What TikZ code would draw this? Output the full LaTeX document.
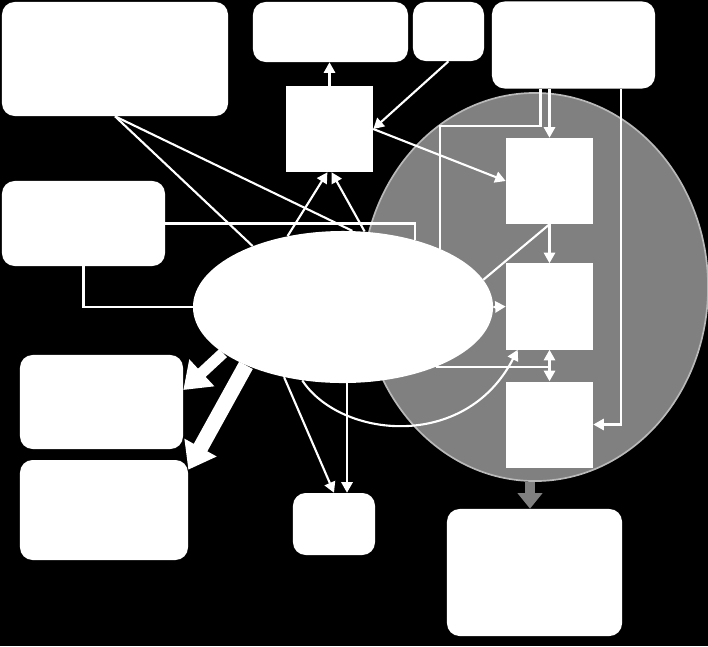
\documentclass[tikz,border=0pt]{standalone}
\usetikzlibrary{arrows.meta,shapes.geometric}
\begin{document}
\begin{tikzpicture}[x=0.025cm, y=-0.025cm, >={Triangle[length=7.5pt,width=8pt]}]
        \tikzstyle{box}=[fill=white, rounded corners=9pt, inner sep=0pt]
        \tikzstyle{sq}=[fill=white, inner sep=0pt, minimum width=2.175cm, minimum height=2.15cm]
        \tikzstyle{link}=[white, line width=1.5pt]
        \tikzstyle{fat}=[white, -{Triangle[length=18pt,width=25pt]}]

        \useasboundingbox (0,0) rectangle (708,646);
        \fill[black] (0,0) rectangle (708,646);

        % Nodes
        \node[ellipse, fill=gray, draw=gray!55, line width=1.2pt, inner sep=0pt, minimum width=8.65cm, minimum height=9.7cm] (core) at (535,287) {};

        \node[box, minimum width=5.65cm, minimum height=2.85cm] (a) at (115,59) {};
        \node[box, minimum width=4.075cm, minimum height=2.125cm] (b) at (83.5,223.5) {};
        \node[box, minimum width=3.875cm, minimum height=1.5cm] (c) at (330.5,32) {};
        \node[box, minimum width=1.775cm, minimum height=1.475cm] (d) at (448.5,31.5) {};
        \node[box, minimum width=4.075cm, minimum height=2.175cm] (e) at (573.5,45) {};

        \node[sq] (f) at (329.5,129) {};
        \node[sq] (g1) at (549.5,181) {};
        \node[sq] (g2) at (549.5,306.5) {};
        \node[sq] (g3) at (549.5,424.5) {};

        \node[box, minimum width=4.075cm, minimum height=2.35cm] (l1) at (101.5,402) {};
        \node[box, minimum width=4.2cm, minimum height=2.5cm] (l2) at (104,510) {};
        \node[box, minimum width=2.05cm, minimum height=1.55cm] (m) at (334,524) {};
        \node[box, minimum width=4.375cm, minimum height=3.175cm] (n) at (534.5,572.5) {};

        \node[ellipse, fill=white, inner sep=0pt, minimum width=7.5cm, minimum height=3.8cm] (hub) at (343,307) {};

        % Edges
        \draw [link, ->] (f) to (f.north |- c.south);
        \draw [link, ->] (d.south) to (f.east);
        \draw [link, ->] (f.east) to (g1.west);
        \draw [link, ->] (hub.128) to ([xshift=-1.5pt]f.south);
        \draw [link, ->] (hub.74) to ([xshift=1.5pt]f.south);

        \draw [link] (a.south) to (hub.146);
        \draw [link] (a.south) to (hub.83);
        \draw [link] (b.east) -| (hub.43);
        \draw [link] (b.south) |- (hub.west);

        \draw [link, ->] (g1.north |- e.south) to (g1.north);
        \draw [link] ([xshift=-0.225cm]g1.north |- e.south) -- ++(0,37) -| (hub.31);
        \draw [link, ->] ([xshift=1.19cm]e.south) |- (g3.east);

        \draw [link, ->] (g1) to (g2);
        \draw [link] (g1.south) to (hub.11);
        \draw [link, ->] (hub.east) to (g2.west);
        \draw [link, <->] (g2) to (g3);
        \draw [link] (hub.327) to (hub.327 -| g2.south);
        \draw [link, ->] (hub.241) .. controls (340,438) and (465,452) .. ([xshift=0.3cm]g2.south west);

        \draw [link, ->] (hub.230) to (m.north);
        \draw [link, ->] ([xshift=0.325cm]m.north |- hub.south) to ([xshift=0.325cm]m.north);

        \draw [fat, line width=8pt] (hub.201) to ([yshift=0.3cm]l1.east);
        \draw [fat, line width=11pt] (hub.211) to ([yshift=-0.25cm]l2.north east);
        \draw [gray, line width=7pt, -{Triangle[length=11pt,width=17pt]}] ([xshift=-0.125cm]core.south) to ([xshift=-0.125cm]core.south |- n.north);

    \end{tikzpicture}
\end{document}
